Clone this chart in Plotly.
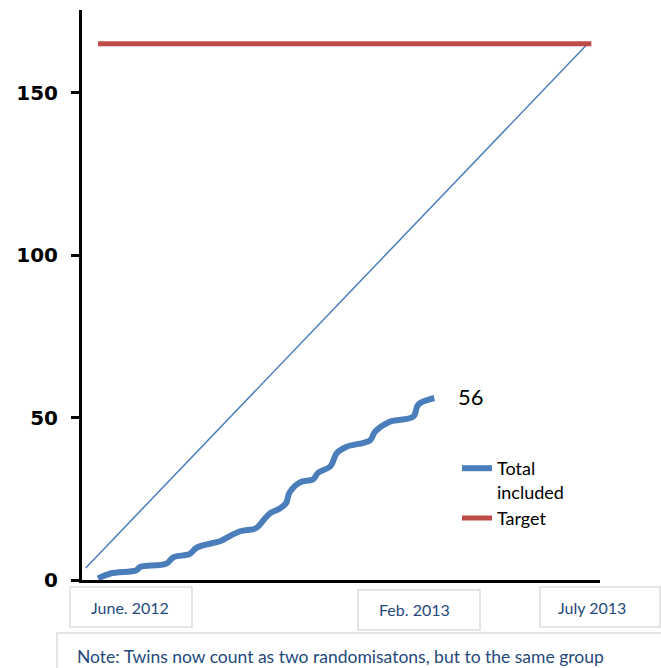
import plotly.graph_objects as go

# ---- data ----
included_dates = ["2012-06-01", "2012-06-11", "2012-07-02", "2012-07-05", "2012-07-26",
                  "2012-08-01", "2012-08-14", "2012-08-20", "2012-09-08", "2012-09-13",
                  "2012-09-24", "2012-10-07", "2012-10-13", "2012-10-18", "2012-10-26",
                  "2012-10-31", "2012-11-03", "2012-11-11", "2012-11-22", "2012-11-26",
                  "2012-12-06", "2012-12-11", "2012-12-19", "2013-01-07", "2013-01-11",
                  "2013-01-23", "2013-02-11", "2013-02-15", "2013-02-28"]
included_values = [0.5, 2, 3, 4, 5, 7, 8, 10, 12, 13, 15, 16, 18.5, 20.5, 22, 23.6, 27, 30,
                   31, 33, 35, 39, 41, 43, 45.6, 48.7, 50.3, 54, 56]

target_dates = ["2012-06-01", "2013-07-05"]
target_values = [165, 165]

pace_dates = ["2012-05-22", "2013-07-02"]
pace_values = [3.7, 165]

y_ticks = [0, 50, 100, 150]
x_labels = ["June. 2012", "Feb. 2013", "July 2013"]
last_label = "56"
note_text = "Note: Twins now count as two randomisatons, but to the same group"

BLUE = "#4A7EBB"
RED = "#BE4B48"
TXT_BLUE = "#1F497D"
BOX = "#DDDDDD"

fig = go.Figure()
fig.add_trace(go.Scatter(x=pace_dates, y=pace_values, mode="lines",
                         line=dict(color=BLUE, width=1.5), showlegend=False, hoverinfo="skip"))
fig.add_trace(go.Scatter(x=included_dates, y=included_values, mode="lines",
                         name="Total<br>included",
                         line=dict(color=BLUE, width=6, shape="spline", smoothing=1)))
fig.add_trace(go.Scatter(x=target_dates, y=target_values, mode="lines", name="Target",
                         line=dict(color=RED, width=5)))

W, H = 661, 668
L, R, T, B = 82, 61, 10, 88
pw, ph = W - L - R, H - T - B


def px(xp):
    return (xp - L) / pw


def py(yp):
    return (H - B - yp) / ph


shapes = []
annotations = []
boxes = [(70, 587, 192, 627), (358, 590, 480, 630), (540, 587, 660, 627)]
centers = [(130, 607), (414, 609), (592, 607)]
for (x0, y0, x1, y1), (cx, cy), lab in zip(boxes, centers, x_labels):
    shapes.append(dict(type="rect", xref="paper", yref="paper", x0=px(x0), x1=px(x1),
                       y0=py(y0), y1=py(y1), line=dict(color=BOX, width=1.5)))
    annotations.append(dict(xref="paper", yref="paper", x=px(cx), y=py(cy), text=lab,
                            showarrow=False, xanchor="center", yanchor="middle",
                            font=dict(family="Lato", size=16, color=TXT_BLUE)))

shapes.append(dict(type="rect", xref="paper", yref="paper", x0=px(57), x1=px(675),
                   y0=py(633), y1=py(672), line=dict(color=BOX, width=1.5)))
annotations.append(dict(xref="paper", yref="paper", x=px(75), y=py(656), text=note_text,
                        showarrow=False, xanchor="left", yanchor="middle",
                        font=dict(family="Lato", size=17.5, color=TXT_BLUE)))

annotations.append(dict(x=included_dates[-1], y=included_values[-1], text=last_label,
                        showarrow=False, xanchor="left", yanchor="middle", xshift=22, yshift=2,
                        font=dict(family="Lato", size=22, color="black")))

fig.update_layout(
    width=W, height=H,
    margin=dict(l=L, r=R, t=T, b=B),
    paper_bgcolor="white", plot_bgcolor="white",
    shapes=shapes, annotations=annotations,
    legend=dict(x=px(457), y=py(450), xanchor="left", yanchor="top", valign="top",
                font=dict(family="Lato", size=18, color="black"),
                bgcolor="rgba(0,0,0,0)", tracegroupgap=0, itemwidth=30),
    xaxis=dict(type="date", range=["2012-05-19", "2013-07-12"], showgrid=False,
               zeroline=False, showline=True, linecolor="black", linewidth=3,
               showticklabels=False, ticks=""),
    yaxis=dict(range=[0, 175.4], tickvals=y_ticks, showgrid=False, zeroline=False,
               showline=True, linecolor="black", linewidth=3, ticks="outside",
               ticklen=8, tickwidth=3, tickcolor="black", ticklabelstandoff=9,
               tickfont=dict(family="DejaVu Sans", size=20, color="black", weight="bold")),
)

fig.write_html("out.html")
